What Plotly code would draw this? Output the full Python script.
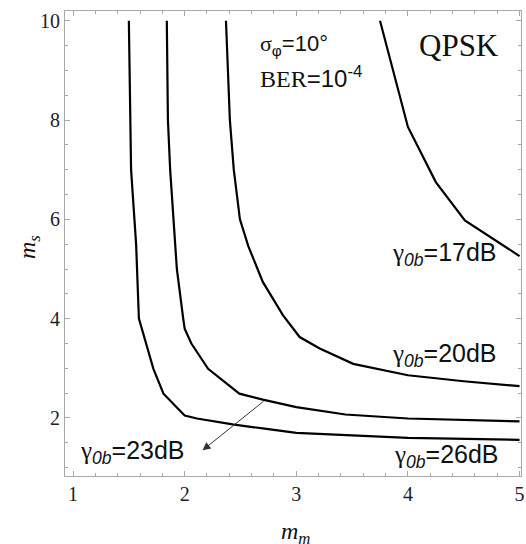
import plotly.graph_objects as go

# gamma_0b curves (m_m, m_s)
x_26 = [1.50, 1.51, 1.52, 1.55, 1.565, 1.59, 1.66, 1.72, 1.81, 2.00, 2.11, 2.43, 2.70, 3.00, 4.00, 5.00]
y_26 = [10.0, 8.0, 7.0, 6.0, 5.5, 4.0, 3.47, 2.99, 2.49, 2.05, 1.99, 1.87, 1.79, 1.70, 1.60, 1.56]

x_23 = [1.84, 1.85, 1.87, 1.90, 1.93, 1.987, 2.00, 2.06, 2.21, 2.49, 2.70, 3.00, 3.44, 4.00, 5.00]
y_23 = [10.0, 8.0, 7.0, 6.0, 5.0, 4.0, 3.80, 3.50, 2.99, 2.49, 2.37, 2.22, 2.07, 1.99, 1.93]

x_20 = [2.37, 2.405, 2.44, 2.495, 2.57, 2.66, 2.70, 2.88, 3.03, 3.21, 3.51, 4.00, 4.50, 5.00]
y_20 = [10.0, 8.0, 7.0, 6.0, 5.46, 4.95, 4.74, 4.07, 3.63, 3.40, 3.09, 2.86, 2.74, 2.64]

x_17 = [3.75, 3.86, 4.00, 4.25, 4.51, 5.00]
y_17 = [10.0, 9.07, 7.86, 6.75, 5.98, 5.26]

x_ticks = [1, 2, 3, 4, 5]
y_ticks = [2, 4, 6, 8, 10]

SERIF = "Liberation Serif"
SANS = "Liberation Sans"

fig = go.Figure()
for xs, ys in [(x_26, y_26), (x_23, y_23), (x_20, y_20), (x_17, y_17)]:
    fig.add_trace(go.Scatter(x=xs, y=ys, mode="lines",
                             line=dict(color="black", width=2.2),
                             showlegend=False, hoverinfo="skip"))

tick_font = dict(family=SERIF, size=20, color="#222")

def axis(rng, vals, minor_dt):
    return dict(
        range=rng, tickvals=vals, ticktext=[str(v) for v in vals],
        showgrid=False, zeroline=False, showline=True, linecolor="#a8a8a8",
        linewidth=1, mirror="allticks", ticks="inside", ticklen=5, tickwidth=1,
        tickcolor="#a8a8a8", tickfont=tick_font, automargin=False,
        minor=dict(dtick=minor_dt, ticks="inside", ticklen=3,
                   tickcolor="#a8a8a8", showgrid=False),
    )

def gam(txt):
    return ('<span style="font-family:Liberation Serif">γ</span>'
            '<sub><i>0b</i></sub>' + txt)

ann = []
def add_text(x, y, text, size, family=SANS, xanchor="left"):
    ann.append(dict(x=x, y=y, xref="x", yref="y", text=text, showarrow=False,
                    xanchor=xanchor, yanchor="middle",
                    font=dict(family=family, size=size, color="#111")))

add_text(2.655, 9.52, '<span style="font-family:Liberation Serif">σ</span><sub>φ</sub>=10°', 22)
add_text(2.655, 8.86, '<span style="font-family:Liberation Serif">BER</span>=10<sup>-4</sup>', 24)
add_text(4.08, 9.51, 'QPSK', 31, family=SERIF)
add_text(3.837, 5.30, gam('=17dB'), 25)
add_text(3.835, 3.26, gam('=20dB'), 25)
add_text(3.86, 1.23, gam('=26dB'), 25)
add_text(1.045, 1.32, gam('=23dB'), 25)

# arrow from 23dB curve to its label
ann.append(dict(x=2.16, y=1.35, ax=2.72, ay=2.36, xref="x", yref="y",
                axref="x", ayref="y", text="", showarrow=True,
                arrowhead=2, arrowsize=1.6, arrowwidth=1, arrowcolor="#333"))

W, H = 526, 544
L, R, T, B = 65, 4.5, 11, 68
pw, ph = W - L - R, H - T - B

# axis titles (pixel positions converted to paper coords)
ann.append(dict(x=(29 - L) / pw, y=(H - B - 247) / ph, xref="paper", yref="paper",
                text="<i>m<sub>s</sub></i>", showarrow=False, textangle=-90,
                xanchor="center", yanchor="middle",
                font=dict(family=SERIF, size=24, color="#111")))
ann.append(dict(x=(296 - L) / pw, y=(H - B - 533) / ph, xref="paper", yref="paper",
                text="<i>m<sub>m</sub></i>", showarrow=False,
                xanchor="center", yanchor="middle",
                font=dict(family=SERIF, size=24, color="#111")))

fig.update_layout(
    width=W, height=H, margin=dict(l=L, r=R, t=T, b=B),
    plot_bgcolor="white", paper_bgcolor="white",
    xaxis=axis([0.928, 5.013], x_ticks, 0.2),
    yaxis=axis([0.832, 10.195], y_ticks, 0.5),
    annotations=ann,
)
fig.write_html("out.html", config={"displayModeBar": False},
               post_script="document.body.style.margin='0';")
